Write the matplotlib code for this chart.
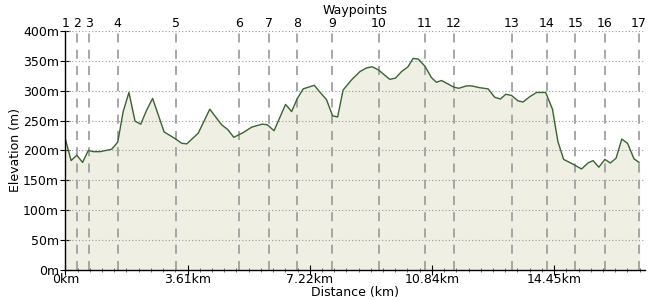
import numpy as np
import matplotlib
matplotlib.use('Agg')
import matplotlib.pyplot as plt
from matplotlib.ticker import MultipleLocator

plt.rcParams['font.family'] = ['DejaVu Sans']
plt.rcParams['font.size'] = 9

# elevation profile (km, m)
dist_km = [0.0, 0.17, 0.34, 0.51, 0.68, 0.83, 1.03, 1.37, 1.55, 1.71, 1.88, 2.06, 2.23,
           2.40, 2.58, 2.75, 2.92, 3.24, 3.44, 3.59, 3.93, 4.27, 4.62, 4.80, 4.98, 5.26,
           5.51, 5.82, 5.97, 6.17, 6.51, 6.69, 6.85, 7.03, 7.36, 7.52, 7.72, 7.90, 8.05,
           8.21, 8.46, 8.71, 8.90, 9.07, 9.25, 9.44, 9.59, 9.76, 9.94, 10.13, 10.28, 10.43,
           10.63, 10.82, 10.97, 11.12, 11.22, 11.48, 11.63, 11.86, 12.01, 12.25, 12.50,
           12.69, 12.86, 13.02, 13.19, 13.38, 13.53, 13.73, 13.93, 14.07, 14.20, 14.40,
           14.56, 14.73, 15.01, 15.26, 15.45, 15.60, 15.77, 15.95, 16.11, 16.28, 16.45,
           16.62, 16.81, 16.96]
elev_m = [219, 183, 192, 180, 200, 198, 198, 202, 214, 265, 297, 249, 244,
          267, 287, 259, 231, 220, 212, 211, 229, 269, 243, 235, 222, 230,
          239, 244, 243, 233, 277, 265, 286, 303, 309, 298, 285, 258, 256,
          301, 318, 332, 338, 340, 335, 326, 319, 321, 332, 340, 354, 353,
          341, 322, 314, 317, 314, 306, 304, 308, 308, 305, 303,
          289, 286, 294, 292, 283, 281, 290, 297, 297, 297, 269,
          215, 185, 177, 169, 179, 183, 172, 185, 179, 187, 219,
          212, 186, 180]

waypoint_km = [0.0, 0.35, 0.69, 1.55, 3.26, 5.14, 6.01, 6.85, 7.89, 9.26, 10.63,
               11.48, 13.20, 14.24, 15.08, 15.94, 16.96]
waypoint_labels = [str(i + 1) for i in range(len(waypoint_km))]

x_major = 3.6125
x_ticks = [0, x_major, 2 * x_major, 3 * x_major, 4 * x_major]
x_ticklabels = ['0km', '3.61km', '7.22km', '10.84km', '14.45km']
y_ticks = [0, 50, 100, 150, 200, 250, 300, 350, 400]
y_ticklabels = [f'{v}m' for v in y_ticks]

fig = plt.figure(figsize=(6.5, 3.0), dpi=100)
ax = fig.add_axes([0.1005, 0.1, 0.8915, 0.797])

ax.fill_between(dist_km, elev_m, 0, color='#f0efe4', zorder=1)
ax.plot(dist_km, elev_m, color='#3b6532', lw=1.0, zorder=4)

# horizontal dotted grid
for v in y_ticks[1:]:
    ax.axhline(v, color='#999999', lw=0.8, ls=(0, (1, 2)), zorder=2)

# waypoint markers
for w in waypoint_km:
    ax.axvline(w, color='#a0a0a0', lw=1.3, ls=(0, (5, 4)), zorder=3)

ax.set_xlim(0, 17.13)
ax.set_ylim(0, 400)
ax.set_xticks(x_ticks)
ax.set_xticklabels(x_ticklabels)
ax.xaxis.set_minor_locator(MultipleLocator(x_major / 10))
ax.set_yticks(y_ticks)
ax.set_yticklabels(y_ticklabels)
ax.tick_params(axis='x', which='major', direction='inout', length=7, width=0.8, pad=-1)
ax.tick_params(axis='x', which='minor', direction='inout', length=3, width=0.6, color='#555555')
ax.tick_params(axis='y', which='major', direction='inout', length=7, width=0.8, pad=1)

for s in ['top', 'right']:
    ax.spines[s].set_visible(False)
ax.spines['left'].set_linewidth(1.0)
ax.spines['bottom'].set_linewidth(1.0)
ax.spines['left'].set_zorder(5)
ax.spines['bottom'].set_zorder(5)

ax.set_xlabel('Distance (km)', labelpad=0)
ax.set_ylabel('Elevation (m)', labelpad=1)

ax2 = ax.twiny()
ax2.set_xlim(ax.get_xlim())
ax2.set_xticks(waypoint_km)
ax2.set_xticklabels(waypoint_labels)
ax2.tick_params(axis='x', length=0, pad=1)
for s in ax2.spines.values():
    s.set_visible(False)
ax2.set_xlabel('Waypoints', labelpad=2)

fig.savefig('out.png', dpi=100)
